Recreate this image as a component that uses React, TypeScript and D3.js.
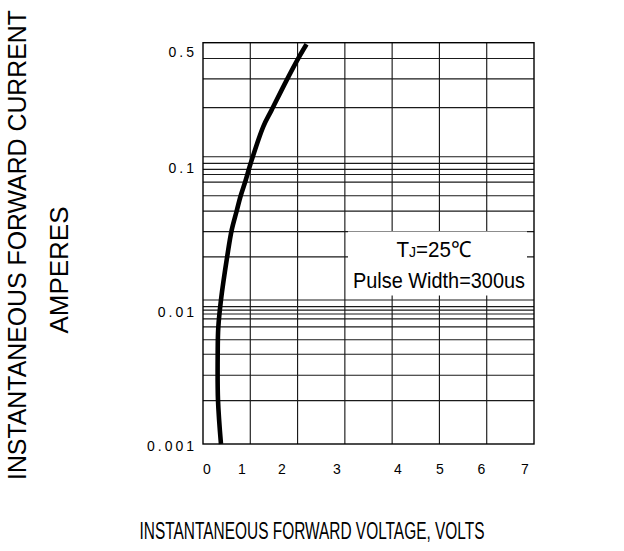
import React from "react";
import * as d3 from "d3";

// ---- data ----
const xDomain = [0, 7];
const yDomain = [0.001, 0.01, 0.1, 0.5];

const xGridValues = [1, 2, 3, 4, 5, 6];
const yGridValues = [
  0.002, 0.003, 0.0042, 0.0053, 0.0065, 0.0074, 0.008, 0.0085, 0.009, 0.01,
  0.02, 0.03, 0.0417, 0.0534, 0.0664, 0.0751, 0.0815, 0.0899, 0.1,
  0.2, 0.3, 0.4,
];

const xTickLabels = ["0", "1", "2", "3", "4", "5", "6", "7"];
const xTickLabelAt = [0.08, 0.82, 1.67, 2.83, 4.12, 5.01, 5.89, 6.81];
const yTickLabels = ["0.5", "0.1", "0.01", "0.001"];
const yTickLabelAt = [0.435, 0.0834, 0.0083, 0.00096];

const forwardVoltage = [0.38, 0.317, 0.311, 0.323, 0.38, 0.514, 0.607, 0.712, 0.797, 0.898, 1.01, 1.275, 1.45, 1.77, 2.015, 2.19];
const forwardCurrent = [0.001, 0.00202, 0.0043, 0.0064, 0.01, 0.0203, 0.0308, 0.0418, 0.0534, 0.0677, 0.0904, 0.153, 0.193, 0.295, 0.401, 0.489];

const legendLine1 = ["T", "J", "=25℃"];
const legendLine2 = "Pulse Width=300us";
const yTitle = "INSTANTANEOUS FORWARD CURRENT";
const yTitle2 = "AMPERES";
const xTitle = "INSTANTANEOUS FORWARD VOLTAGE,  VOLTS";

// ---- layout ----
const W = 624;
const H = 551;
const plot = { left: 203, right: 534, top: 42.7, bottom: 444 };
const FONT = "'Liberation Sans', Arial, Helvetica, sans-serif";

export default function App() {
  const x = d3.scaleLinear().domain(xDomain).range([plot.left, plot.right]);
  const y = d3
    .scaleLog()
    .domain(yDomain)
    .range([plot.bottom, 300, 156.7, plot.top]);

  const pts: [number, number][] = forwardVoltage.map((v, i) => [x(v), y(forwardCurrent[i])]);
  const line = d3.line().curve(d3.curveCatmullRom.alpha(0.5));
  const path = line(pts) || "";

  return (
    <svg
      width={W}
      height={H}
      viewBox={`0 0 ${W} ${H}`}
      style={{ position: "absolute", left: 0, top: 0, background: "#fff" }}
      fontFamily={FONT}
    >
      <rect x={0} y={0} width={W} height={H} fill="#fff" />
      {/* grid */}
      <g stroke="#1a1a1a" strokeWidth={1.15} fill="none">
        {yGridValues.map((v, i) => (
          <line key={"h" + i} x1={plot.left} x2={plot.right} y1={y(v)} y2={y(v)} />
        ))}
        {xGridValues.map((v, i) => (
          <line key={"v" + i} x1={x(v)} x2={x(v)} y1={plot.top} y2={plot.bottom} />
        ))}
        <rect
          x={plot.left}
          y={plot.top}
          width={plot.right - plot.left}
          height={plot.bottom - plot.top}
          stroke="#000"
          strokeWidth={1.4}
        />
      </g>

      {/* legend */}
      <rect x={348} y={231.5} width={179} height={64} fill="#fff" />
      <text x={434} y={257} textAnchor="middle" fontSize={22} textLength={75} lengthAdjust="spacingAndGlyphs" fill="#000">
        {legendLine1[0]}
        <tspan fontSize={15}>{legendLine1[1]}</tspan>
        {legendLine1[2]}
      </text>
      <text x={439} y={288} textAnchor="middle" fontSize={22} textLength={172} lengthAdjust="spacingAndGlyphs" fill="#000">
        {legendLine2}
      </text>

      {/* curve */}
      <path d={path} fill="none" stroke="#000" strokeWidth={4.6} strokeLinecap="butt" />

      {/* tick labels */}
      {xTickLabels.map((t, i) => (
        <text key={"xt" + i} x={x(xTickLabelAt[i])} y={474} textAnchor="middle" fontSize={14} fill="#000">
          {t}
        </text>
      ))}
      {yTickLabels.map((t, i) => (
        <text
          key={"yt" + i}
          x={197}
          y={y(yTickLabelAt[i])}
          dy="0.35em"
          textAnchor="end"
          fontSize={14}
          letterSpacing={3}
          fill="#000"
        >
          {t}
        </text>
      ))}

      {/* axis titles */}
      <text
        transform="translate(26,245) rotate(-90)"
        textAnchor="middle"
        fontSize={25}
        textLength={470}
        lengthAdjust="spacingAndGlyphs"
        fill="#000"
      >
        {yTitle}
      </text>
      <text
        transform="translate(68,270) rotate(-90)"
        textAnchor="middle"
        fontSize={26}
        textLength={127}
        lengthAdjust="spacingAndGlyphs"
        fill="#000"
      >
        {yTitle2}
      </text>
      <text transform="translate(312,539) scale(0.63,1)" textAnchor="middle" fontSize={24.5} fill="#000">
        {xTitle}
      </text>
    </svg>
  );
}
